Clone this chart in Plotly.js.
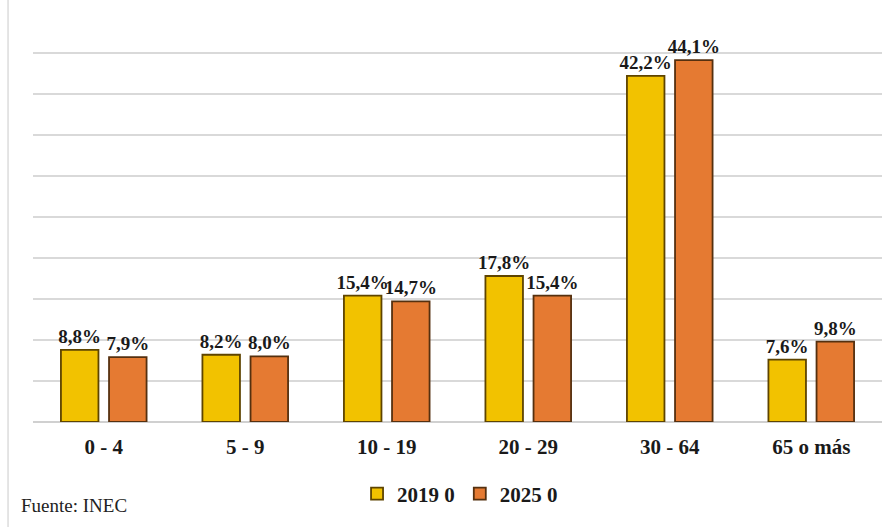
<!DOCTYPE html>
<html>
<head>
<meta charset="utf-8">
<script src="https://cdn.plot.ly/plotly-3.0.1.min.js"></script>
<style>
html,body{margin:0;padding:0;background:#fff;}
#chart{width:888px;height:527px;}
</style>
</head>
<body>
<div id="chart"></div>
<script>
const categories = ['0 - 4', '5 - 9', '10 - 19', '20 - 29', '30 - 64', '65 o más'];
const values2019 = [8.8, 8.2, 15.4, 17.8, 42.2, 7.6];
const values2025 = [7.9, 8.0, 14.7, 15.4, 44.1, 9.8];
const seriesNames = ['2019 0', '2025 0'];

const serif = 'Liberation Serif';
function barTrace(name, vals, fill, line) {
  return {
    type: 'bar', name: name, x: categories, y: vals,
    marker: {color: fill, line: {color: line, width: 1.8}},
    texttemplate: '%{y:.1f}%', textposition: 'outside', constraintext: 'none',
    textfont: {family: serif, size: 19, color: '#1a1a1a', weight: 'bold'},
    cliponaxis: false, hoverinfo: 'skip'
  };
}
const data = [
  barTrace(seriesNames[0], values2019, '#f2c200', '#5e4400'),
  barTrace(seriesNames[1], values2025, '#e57a32', '#55300f')
];
const layout = {
  width: 888, height: 527,
  margin: {l: 33, r: 6, t: 11, b: 105},
  paper_bgcolor: '#ffffff', plot_bgcolor: '#ffffff',
  separators: ',.',
  font: {family: serif},
  barmode: 'group', bargap: 0.32, bargroupgap: 0.22,
  showlegend: true,
  legend: {orientation: 'h', x: 0.503, xanchor: 'center', y: -0.175, yanchor: 'middle',
    font: {family: serif, size: 21, color: '#1a1a1a', weight: 'bold'}, itemwidth: 30},
  xaxis: {tickfont: {family: serif, size: 21, color: '#1a1a1a', weight: 'bold'},
    showline: false, ticks: '', showgrid: false, ticklabelstandoff: 10},
  yaxis: {range: [0, 50.1], dtick: 5, showticklabels: false, showgrid: true,
    gridcolor: '#d9d9d9', gridwidth: 1.5, zeroline: true, zerolinecolor: '#d0d0d0', zerolinewidth: 1.5, ticks: ''},
  shapes: [
    {type: 'line', xref: 'paper', yref: 'paper', x0: -0.0294, x1: -0.0294, y0: -0.256, y1: 1.03,
     line: {color: '#dcdcdc', width: 1.5}}
  ],
  annotations: [
    {text: 'Fuente: INEC', xref: 'paper', yref: 'paper', x: -0.016, y: -0.204, xanchor: 'left', yanchor: 'middle',
     showarrow: false, font: {family: serif, size: 19, color: '#222'}}
  ]
};
Plotly.newPlot('chart', data, layout, {displayModeBar: false, staticPlot: true});
</script>
</body>
</html>
